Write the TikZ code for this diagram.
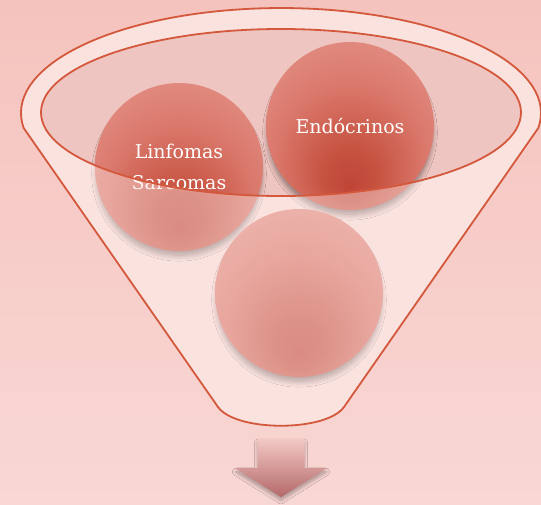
\documentclass[tikz,border=0pt]{standalone}
\usepackage{fontspec}
\newfontfamily\labelfont{DejaVu Serif}
\usetikzlibrary{shadows.blur}
\definecolor{bgtop}{HTML}{F5C3BE}
\definecolor{bgbot}{HTML}{F9D7D4}
\definecolor{funnelfill}{HTML}{FAE2DF}
\definecolor{mouthfill}{HTML}{EFC5C1}
\definecolor{edge}{HTML}{D4583C}
\definecolor{ballin}{HTML}{BF4537}
\definecolor{ballin2}{HTML}{C65240}
\definecolor{ballmid}{HTML}{DA776B}
\definecolor{ballout}{HTML}{EBA39A}
\definecolor{arrowtop}{HTML}{F3CAC6}
\definecolor{arrowbot}{HTML}{B46868}
\pgfdeclareradialshading{redball}{\pgfpoint{0bp}{-18bp}}{color(0bp)=(ballin); color(8bp)=(ballin2); color(22bp)=(ballmid); color(45bp)=(ballout); color(50bp)=(ballout)}
\tikzset{
  ballnode/.style={circle, inner sep=0pt, minimum size=168pt, shade, shading=redball,
    blur shadow={shadow xshift=0pt, shadow yshift=-7pt, shadow scale=0.97, shadow blur radius=6pt, shadow opacity=50, shadow blur steps=12},
    text=white, align=center, font=\labelfont\fontsize{19}{31}\selectfont},
  edgeline/.style={draw=edge, line width=1.8pt}
}
\begin{document}
\begin{tikzpicture}[x=1pt,y=1pt]
\useasboundingbox (0,0) rectangle (541,-504);
\shade[top color=bgtop, bottom color=bgbot] (0,0) rectangle (541,-504);
% funnel body
\fill[funnelfill] (23.66,-128) arc[start angle=188.2, end angle=-8.2, x radius=260pt, y radius=105pt]
  -- (344,-407) .. controls (326,-432) and (236,-432) .. (218,-407) -- cycle;
% funnel mouth
\fill[mouthfill] (281,-112.5) ellipse[x radius=240pt, y radius=83.5pt];
% balls
\node[ballnode] (c1) at (179,-167) {Linfomas\\Sarcomas};
\node[ballnode] (c2) at (350,-126) {Endócrinos};
\node[ballnode] (c3) at (299,-293) {};
% translucent front of funnel
\fill[funnelfill, fill opacity=0.45, even odd rule]
  (23.66,-128) arc[start angle=188.2, end angle=-8.2, x radius=260pt, y radius=105pt]
  -- (344,-407) .. controls (326,-432) and (236,-432) .. (218,-407) -- cycle
  (281,-112.5) ellipse[x radius=240pt, y radius=83.5pt];
% outlines
\draw[edgeline, line join=round] (23.66,-128) arc[start angle=188.2, end angle=-8.2, x radius=260pt, y radius=105pt]
  -- (344,-407) .. controls (326,-432) and (236,-432) .. (218,-407) -- cycle;
\draw[edgeline] (281,-112.5) ellipse[x radius=240pt, y radius=83.5pt];
% arrow
\shade[top color=arrowtop, bottom color=arrowbot,
  blur shadow={shadow xshift=0pt, shadow yshift=-4pt, shadow scale=0.97, shadow blur radius=4pt, shadow opacity=35, shadow blur steps=8}]
  (257.5,-438) -- (304.5,-438) -- (304.5,-468) -- (327,-468) -- (281,-497) -- (235,-468) -- (257.5,-468) -- cycle;
\end{tikzpicture}
\end{document}
